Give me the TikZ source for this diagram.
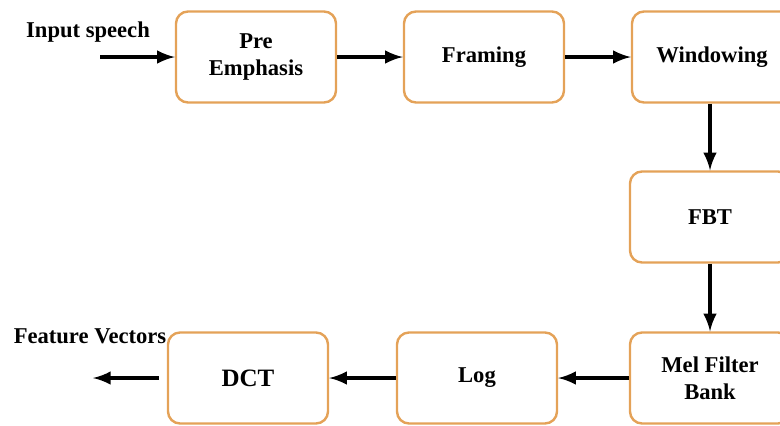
\documentclass[tikz,border=0pt]{standalone}
\usepackage{fontspec}
\setmainfont{Liberation Serif}
\usetikzlibrary{arrows}
\usetikzlibrary{positioning}
\definecolor{boxline}{RGB}{228,162,88}
\tikzset{
  stage/.style={draw=boxline, line width=1.2pt, rounded corners=6pt,
    minimum width=80pt, minimum height=45.5pt, align=center,
    font=\fontsize{11.3}{13.5}\selectfont\bfseries},
  iotext/.style={inner sep=0pt, font=\fontsize{11.3}{13.5}\selectfont\bfseries},
  flow/.style={-latex, line width=2pt}
}
\begin{document}
\begin{tikzpicture}[x=0.5pt,y=-0.5pt]
  \useasboundingbox (0,0) rectangle (780,425);
  \clip (0,0) rectangle (780,425);
  % processing stages
  \node[stage] (pre) at (256,57) {Pre\\Emphasis};
  \node[stage] (fram) at (484,57) {Framing};
  \node[stage] (wind) at (712,57) {Windowing};
  \node[stage] (fbt) at (710,217) {FBT};
  \node[stage] (mel) at (710,378) {Mel Filter\\Bank};
  \node[stage] (log) at (477,378) {Log};
  \node[stage, font=\fontsize{12.5}{15}\selectfont\bfseries] (dct) at (248,378) {DCT};
  % input and output
  \node[iotext] (in) at (88,32) {Input speech};
  \node[iotext] (out) at (90,336) {Feature Vectors};
  \coordinate (src) at (100,57);
  \coordinate (dst) at (93,378);
  % arrows
  \draw[flow] (src) -- (pre.west);
  \draw[flow] (pre) -- (fram);
  \draw[flow] (fram) -- (wind);
  \draw[flow] (wind.south -| fbt) -- (fbt);
  \draw[flow] (fbt) -- (mel);
  \draw[flow] (mel) -- (log);
  \draw[flow] (log) -- (dct);
  \draw[flow] ([xshift=-4pt]dct.west) -- (dst);
\end{tikzpicture}
\end{document}
